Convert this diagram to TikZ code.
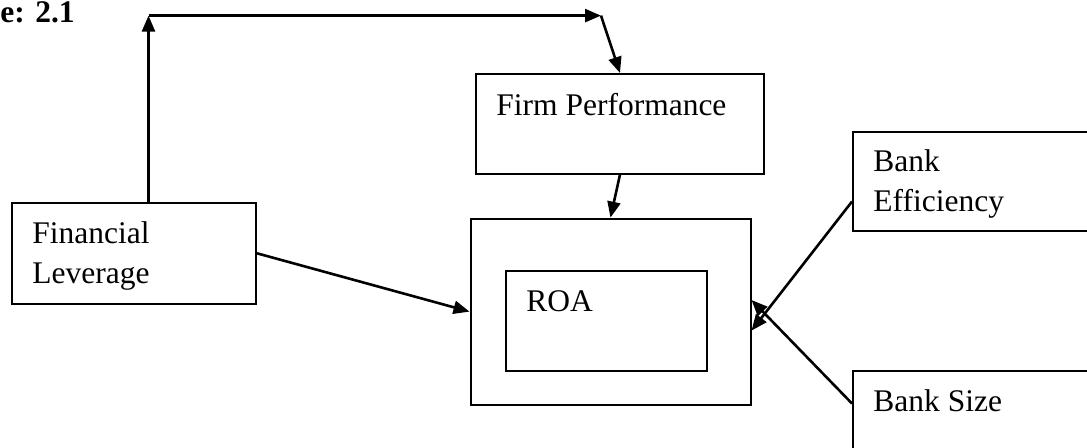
\documentclass[tikz,border=0pt]{standalone}
\usepackage{fontspec}
\setmainfont{Liberation Serif}
\usetikzlibrary{arrows.meta}

\begin{document}
\begin{tikzpicture}[x=0.5pt, y=-0.5pt,
  box/.style={draw, line width=1pt, anchor=north west, inner sep=0pt},
  txt/.style={anchor=north west, inner sep=0pt, align=left, font=\fontsize{15.75pt}{20pt}\selectfont},
  arr/.style={line width=1.3pt, -{Triangle[length=8pt, width=6.5pt]}}]
\useasboundingbox (0,0) rectangle (1087,447);
\node[anchor=north west, inner sep=0pt, font=\fontsize{15.75pt}{20pt}\selectfont\bfseries] (title) at (0,1) {e: 2.1};
\node[box, minimum width=122pt, minimum height=50.3pt] (lev) at (11,202) {};
\node[box, minimum width=144pt, minimum height=49.75pt] (firm) at (475,73) {};
\node[box, minimum width=140pt, minimum height=93pt] (outer) at (469.5,217.6) {};
\node[box, minimum width=100.4pt, minimum height=50pt] (roa) at (505,270) {};
\node[box, minimum width=130pt, minimum height=49.5pt] (eff) at (852,131) {};
\node[box, minimum width=130pt, minimum height=50pt] (size) at (852,370) {};
\node[txt] (levtxt) at ([shift={(21,19.5)}]lev.north west) {Financial\\Leverage};
\node[txt] (firmtxt) at ([shift={(21,19.5)}]firm.north west) {Firm Performance};
\node[txt] (roatxt) at ([shift={(21,20.5)}]roa.north west) {ROA};
\node[txt] (efftxt) at ([shift={(21,18.5)}]eff.north west) {Bank\\Efficiency};
\node[txt] (sizetxt) at ([shift={(21,19.5)}]size.north west) {Bank Size};
\coordinate (c1) at (148.5,15.6);
\coordinate (c2) at (601,15.6);
\draw[arr] (lev.north -| c1) -- (c1);
\draw[arr] (c1) -- (c2);
\draw[arr] (c2) -- (firm.north);
\draw[arr] (firm.south) -- (outer.north);
\draw[arr] (lev.east) -- (outer.west);
\draw[arr] ([yshift=-10pt]eff.west) -- ([yshift=-9.5pt]outer.east);
\draw[arr] ([yshift=-16.75pt]size.north west) -- ([yshift=5.8pt]outer.east);
\end{tikzpicture}
\end{document}
